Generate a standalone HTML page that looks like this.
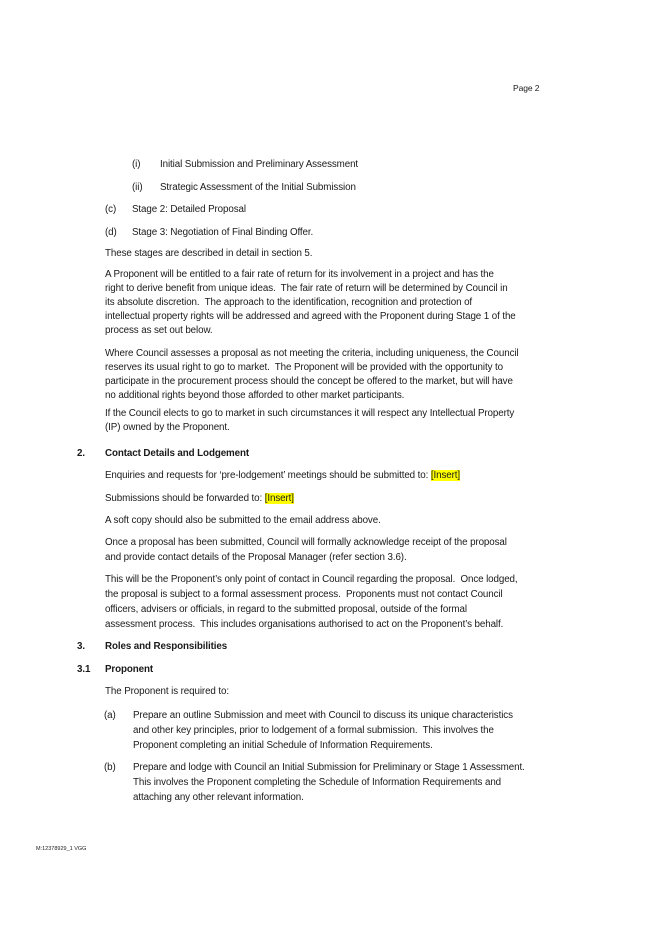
<!DOCTYPE html>
<html><head><meta charset="utf-8"><style>
html,body{margin:0;padding:0;background:#fff;}
body{width:645px;height:934px;position:relative;overflow:hidden;font-family:"Liberation Sans",sans-serif;color:#1a1a1a;}
.l{position:absolute;white-space:nowrap;font-size:9.8px;line-height:14px;letter-spacing:-0.1px;}
.b{font-weight:bold;}
.h{background:#ffff00;}
</style></head><body>
<div class="l" style="left:513px;top:81px;font-size:8.5px">Page 2</div>

<div class="l" style="left:132px;top:158px">(i)</div><div class="l" style="left:160px;top:158px">Initial Submission and Preliminary Assessment</div>
<div class="l" style="left:132px;top:181px">(ii)</div><div class="l" style="left:160px;top:181px">Strategic Assessment of the Initial Submission</div>
<div class="l" style="left:105px;top:203px">(c)</div><div class="l" style="left:132px;top:203px">Stage 2: Detailed Proposal</div>
<div class="l" style="left:105px;top:226px">(d)</div><div class="l" style="left:132px;top:226px">Stage 3: Negotiation of Final Binding Offer.</div>
<div class="l" style="left:105px;top:247px">These stages are described in detail in section 5.</div>

<div class="l" style="left:105px;top:268px">A Proponent will be entitled to a fair rate of return for its involvement in a project and has the</div>
<div class="l" style="left:105px;top:282px">right to derive benefit from unique ideas.&nbsp; The fair rate of return will be determined by Council in</div>
<div class="l" style="left:105px;top:296px">its absolute discretion.&nbsp; The approach to the identification, recognition and protection of</div>
<div class="l" style="left:105px;top:310px">intellectual property rights will be addressed and agreed with the Proponent during Stage 1 of the</div>
<div class="l" style="left:105px;top:324px">process as set out below.</div>

<div class="l" style="left:105px;top:347px">Where Council assesses a proposal as not meeting the criteria, including uniqueness, the Council</div>
<div class="l" style="left:105px;top:361px">reserves its usual right to go to market.&nbsp; The Proponent will be provided with the opportunity to</div>
<div class="l" style="left:105px;top:375px">participate in the procurement process should the concept be offered to the market, but will have</div>
<div class="l" style="left:105px;top:389px">no additional rights beyond those afforded to other market participants.</div>

<div class="l" style="left:105px;top:407px">If the Council elects to go to market in such circumstances it will respect any Intellectual Property</div>
<div class="l" style="left:105px;top:421px">(IP) owned by the Proponent.</div>

<div class="l b" style="left:77px;top:447px">2.</div><div class="l b" style="left:105px;top:447px">Contact Details and Lodgement</div>
<div class="l" style="left:105px;top:469px">Enquiries and requests for ‘pre-lodgement’ meetings should be submitted to: <span class="h">[Insert]</span></div>
<div class="l" style="left:105px;top:492px">Submissions should be forwarded to: <span class="h">[Insert]</span></div>
<div class="l" style="left:105px;top:514px">A soft copy should also be submitted to the email address above.</div>
<div class="l" style="left:105px;top:536px">Once a proposal has been submitted, Council will formally acknowledge receipt of the proposal</div>
<div class="l" style="left:105px;top:551px">and provide contact details of the Proposal Manager (refer section 3.6).</div>
<div class="l" style="left:105px;top:573px">This will be the Proponent’s only point of contact in Council regarding the proposal.&nbsp; Once lodged,</div>
<div class="l" style="left:105px;top:588px">the proposal is subject to a formal assessment process.&nbsp; Proponents must not contact Council</div>
<div class="l" style="left:105px;top:603px">officers, advisers or officials, in regard to the submitted proposal, outside of the formal</div>
<div class="l" style="left:105px;top:618px">assessment process.&nbsp; This includes organisations authorised to act on the Proponent’s behalf.</div>

<div class="l b" style="left:77px;top:640px">3.</div><div class="l b" style="left:105px;top:640px">Roles and Responsibilities</div>
<div class="l b" style="left:77px;top:663px">3.1</div><div class="l b" style="left:105px;top:663px">Proponent</div>
<div class="l" style="left:105px;top:685px">The Proponent is required to:</div>

<div class="l" style="left:104px;top:709px">(a)</div>
<div class="l" style="left:133px;top:709px">Prepare an outline Submission and meet with Council to discuss its unique characteristics</div>
<div class="l" style="left:133px;top:724px">and other key principles, prior to lodgement of a formal submission.&nbsp; This involves the</div>
<div class="l" style="left:133px;top:739px">Proponent completing an initial Schedule of Information Requirements.</div>
<div class="l" style="left:104px;top:761px">(b)</div>
<div class="l" style="left:133px;top:761px">Prepare and lodge with Council an Initial Submission for Preliminary or Stage 1 Assessment.</div>
<div class="l" style="left:133px;top:776px">This involves the Proponent completing the Schedule of Information Requirements and</div>
<div class="l" style="left:133px;top:791px">attaching any other relevant information.</div>

<div class="l" style="left:36px;top:842px;font-size:5.5px;letter-spacing:0">M:12378929_1 VGG</div>
</body></html>
